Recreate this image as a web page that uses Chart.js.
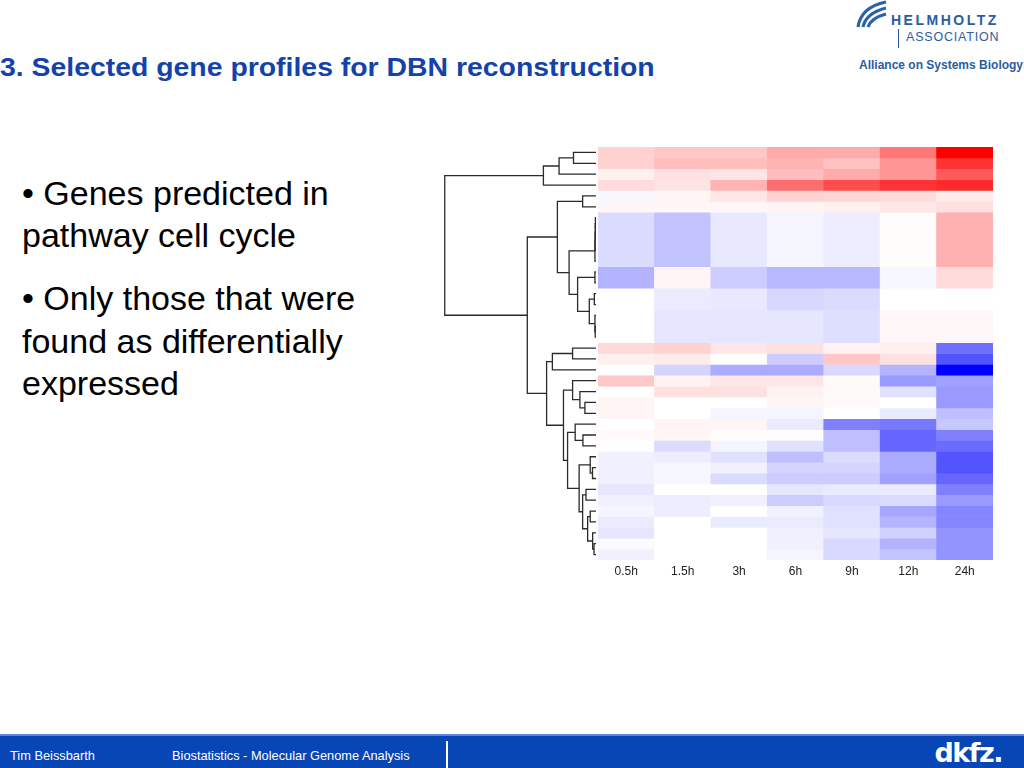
<!DOCTYPE html>
<html>
<head>
<meta charset="utf-8">
<script src="https://cdn.jsdelivr.net/npm/chart.js@4.4.1/dist/chart.umd.min.js"></script>
<style>
  html, body { margin: 0; padding: 0; }
  body { width: 1024px; height: 768px; position: relative; overflow: hidden; background: #fff;
         font-family: "Liberation Sans", Arial, sans-serif; }
  .abs { position: absolute; }
  #title { left: 0; top: 52px; font-size: 28.4px; font-weight: bold; color: #1343aa; white-space: nowrap;
           line-height: 1; transform: scaleY(0.9); transform-origin: 0 100%; }
  .txt { left: 22px; font-size: 34px; color: #000; white-space: nowrap; line-height: 1; }
  #footer { left: 0; top: 734px; width: 1024px; height: 34px; background: #0845b5; border-top: 2px solid #5d86d6; }
  .ft { color: #fff; font-size: 12.8px; top: 12px; white-space: nowrap; }
  #dkfz { right: 22px; top: 1px; color: #fff; font-family: "DejaVu Sans", sans-serif; font-weight: bold;
          font-size: 27px; letter-spacing: -1.5px; }
  .hz { color: #2a5d9f; white-space: nowrap; }
</style>
</head>
<body>
<div id="title" class="abs">3. Selected gene profiles for DBN reconstruction</div>

<svg class="abs" style="left:855px;top:0px" width="34" height="28" viewBox="0 0 34 28">
  <path d="M3,27 Q6,7 31,2" stroke="#2a62aa" stroke-width="3.2" fill="none"/>
  <path d="M8,27 Q11,13 31,8" stroke="#2a62aa" stroke-width="3.2" fill="none"/>
  <path d="M13,27 Q16,18 31,14" stroke="#2a62aa" stroke-width="3.2" fill="none"/>
</svg>
<div class="abs hz" style="left:891px;top:12px;font-size:14px;font-weight:bold;letter-spacing:2.5px">HELMHOLTZ</div>
<div class="abs" style="left:898px;top:29px;width:1px;height:19px;background:#2a5d9f"></div>
<div class="abs hz" style="left:906px;top:30px;font-size:12.5px;letter-spacing:0.8px">ASSOCIATION</div>
<div class="abs hz" style="left:859px;top:58px;font-size:12px;font-weight:bold">Alliance on Systems Biology</div>

<div class="abs txt" style="top:176px">• Genes predicted in</div>
<div class="abs txt" style="top:218px">pathway cell cycle</div>
<div class="abs txt" style="top:281px">• Only those that were</div>
<div class="abs txt" style="top:324px">found as differentially</div>
<div class="abs txt" style="top:366px">expressed</div>

<canvas id="dendro" class="abs" style="left:444px;top:147px" width="152" height="435"></canvas>
<canvas id="heat" class="abs" style="left:598px;top:147px" width="395" height="435"></canvas>

<div id="footer" class="abs">
  <div class="abs ft" style="left:10px">Tim Beissbarth</div>
  <div class="abs ft" style="left:172px">Biostatistics - Molecular Genome Analysis</div>
  <div class="abs" style="left:446px;top:5px;width:2px;height:29px;background:#fff"></div>
  <div id="dkfz" class="abs">dkfz.</div>
</div>

<script>
const timepoints = ['0.5h', '1.5h', '3h', '6h', '9h', '12h', '24h'];

// log ratio per gene (row, top to bottom) and timepoint; + red, - blue
const expression = [
  [ 0.18,  0.22,  0.22,  0.33,  0.33,  0.53,  1.00],
  [ 0.18,  0.26,  0.26,  0.30,  0.24,  0.41,  0.80],
  [ 0.06,  0.12,  0.10,  0.26,  0.33,  0.41,  0.65],
  [ 0.14,  0.11,  0.30,  0.57,  0.70,  0.80,  0.84],
  [-0.03,  0.04,  0.10,  0.18,  0.16,  0.14,  0.08],
  [ 0.03,  0.03,  0.03,  0.04,  0.06,  0.10,  0.12],
  [-0.14, -0.24, -0.09, -0.04, -0.07,  0.01,  0.31],
  [-0.14, -0.24, -0.09, -0.04, -0.07,  0.01,  0.31],
  [-0.14, -0.24, -0.09, -0.04, -0.07,  0.01,  0.31],
  [-0.14, -0.24, -0.09, -0.04, -0.07,  0.01,  0.31],
  [-0.14, -0.24, -0.09, -0.04, -0.07,  0.01,  0.31],
  [-0.30,  0.04, -0.20, -0.28, -0.28, -0.03,  0.14],
  [-0.30,  0.04, -0.20, -0.28, -0.28, -0.03,  0.14],
  [ 0.00, -0.08, -0.09, -0.16, -0.14,  0.00,  0.00],
  [ 0.00, -0.08, -0.09, -0.16, -0.14,  0.00,  0.00],
  [ 0.00, -0.10, -0.10, -0.10, -0.13,  0.03,  0.03],
  [ 0.00, -0.10, -0.10, -0.10, -0.13,  0.03,  0.03],
  [ 0.00, -0.10, -0.10, -0.10, -0.13,  0.03,  0.03],
  [ 0.15,  0.18,  0.10,  0.12,  0.05,  0.06, -0.57],
  [ 0.06,  0.08,  0.00, -0.20,  0.22,  0.12, -0.68],
  [ 0.00, -0.17, -0.33, -0.33, -0.15, -0.30, -1.00],
  [ 0.22,  0.05,  0.10,  0.10,  0.02, -0.40, -0.37],
  [ 0.00,  0.12,  0.12,  0.05,  0.02, -0.12, -0.40],
  [ 0.04,  0.00,  0.00,  0.04,  0.02,  0.00, -0.40],
  [ 0.04,  0.00, -0.04, -0.04,  0.00, -0.08, -0.25],
  [ 0.00,  0.04,  0.04, -0.08, -0.50, -0.53, -0.22],
  [ 0.02,  0.04,  0.01,  0.01, -0.25, -0.60, -0.50],
  [ 0.00, -0.14, -0.04, -0.12, -0.25, -0.60, -0.58],
  [-0.06, -0.07, -0.12, -0.25, -0.14, -0.33, -0.67],
  [-0.06, -0.03, -0.06, -0.17, -0.17, -0.33, -0.67],
  [-0.06, -0.03, -0.14, -0.20, -0.20, -0.37, -0.60],
  [-0.10,  0.00,  0.00, -0.10, -0.08, -0.08, -0.50],
  [-0.06, -0.07, -0.06, -0.20, -0.15, -0.14, -0.40],
  [-0.04, -0.07,  0.00, -0.06, -0.12, -0.35, -0.48],
  [-0.08,  0.00, -0.08, -0.08, -0.12, -0.30, -0.48],
  [-0.10,  0.00,  0.00, -0.06, -0.10, -0.18, -0.42],
  [-0.02,  0.00,  0.00, -0.06, -0.15, -0.30, -0.42],
  [-0.06,  0.00,  0.00, -0.04, -0.15, -0.23, -0.42],
];

// hclust style merges: negative = leaf -(row+1), positive = earlier merge (1-based), then height
const merges = [
  [-1, -2, 0.148], [1, -3, 0.243], [2, -4, 0.346], [-5, -6, 0.088],
  [-7, -8, 0.004], [5, -9, 0.005], [6, -10, 0.006], [7, -11, 0.007],
  [-12, -13, 0.007], [-14, -15, 0.011], [-17, -18, 0.005], [-16, 11, 0.007],
  [10, 12, 0.044], [9, 13, 0.121], [8, 14, 0.177], [4, 15, 0.254],
  [-19, -20, 0.154], [17, -21, 0.287], [-24, -25, 0.073], [-23, 19, 0.106],
  [-22, 20, 0.154], [-27, -28, 0.086], [-26, 22, 0.137], [-30, -31, 0.023],
  [-29, 24, 0.038], [-32, -33, 0.066], [-34, -35, 0.038], [-37, -38, 0.013],
  [-36, 28, 0.022], [27, 29, 0.055], [26, 30, 0.088], [25, 31, 0.111],
  [23, 32, 0.187], [21, 33, 0.214], [18, 34, 0.325], [16, 35, 0.452],
  [3, 36, 0.995],
];

const nRows = expression.length;

function cellColor(v) {
  const k = Math.round(255 * (1 - Math.min(Math.abs(v), 1)));
  return v >= 0 ? `rgb(255,${k},${k})` : `rgb(${k},${k},255)`;
}

function dendroSegments() {
  const pos = [];   // {y, h} per merge
  const node = id => id < 0 ? { y: -id - 1 + 0.5, h: 0 } : pos[id - 1];
  return merges.map(([a, b, h]) => {
    const A = node(a), B = node(b);
    pos.push({ y: (A.y + B.y) / 2, h });
    return [
      { x: A.h, y: A.y }, { x: h, y: A.y },
      { x: h, y: B.y }, { x: B.h, y: B.y },
    ];
  });
}

new Chart(document.getElementById('dendro'), {
  type: 'scatter',
  data: {
    datasets: dendroSegments().map(seg => ({
      data: seg,
      showLine: true,
      borderColor: '#2b2b2b',
      borderWidth: 1.3,
      pointRadius: 0,
      clip: false,
    }))
  },
  options: {
    responsive: false,
    animation: false,
    layout: { padding: { bottom: 22 } },
    plugins: { legend: { display: false }, tooltip: { enabled: false } },
    scales: {
      x: { type: 'linear', min: 0, max: 1, reverse: true, display: false },
      y: { type: 'linear', min: 0, max: nRows, reverse: true, display: false },
    }
  }
});

new Chart(document.getElementById('heat'), {
  type: 'bar',
  data: {
    labels: timepoints,
    datasets: expression.map((row, r) => ({
      data: row.map(() => [r, r + 1]),
      backgroundColor: row.map(cellColor),
      borderWidth: 0,
      barPercentage: 1,
      categoryPercentage: 1,
      grouped: false,
    }))
  },
  options: {
    responsive: false,
    animation: false,
    plugins: { legend: { display: false }, tooltip: { enabled: false } },
    scales: {
      x: {
        grid: { display: false, drawTicks: false },
        border: { display: false },
        ticks: { color: '#222', padding: 4, font: { family: 'Liberation Sans', size: 12 } },
        afterFit: s => { s.height = 22; },
      },
      y: { min: 0, max: nRows, reverse: true, display: false },
    }
  }
});
</script>
</body>
</html>
